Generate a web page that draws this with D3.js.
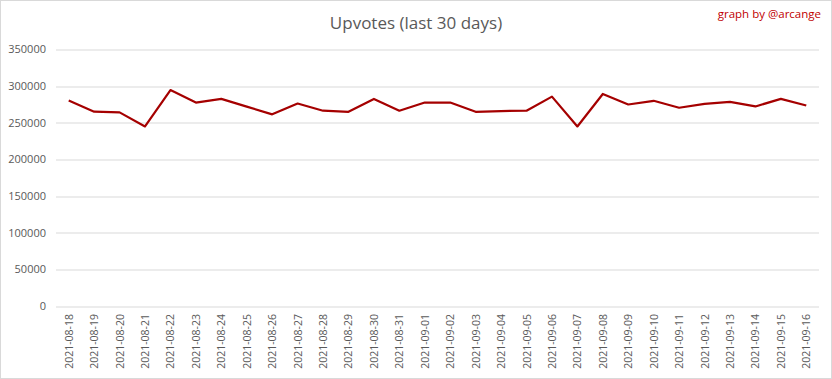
<!DOCTYPE html>
<html>
<head>
<meta charset="utf-8">
<script src="https://cdn.jsdelivr.net/npm/d3@7"></script>
<style>
  html, body { margin: 0; padding: 0; background: #fff; }
  #chart { width: 832px; height: 379px; }
  text { font-family: "Open Sans", "Liberation Sans", sans-serif; }
</style>
</head>
<body>
<div id="chart"></div>
<script>
// Upvotes (last 30 days)
const dates = [
  "2021-08-18", "2021-08-19", "2021-08-20", "2021-08-21", "2021-08-22",
  "2021-08-23", "2021-08-24", "2021-08-25", "2021-08-26", "2021-08-27",
  "2021-08-28", "2021-08-29", "2021-08-30", "2021-08-31", "2021-09-01",
  "2021-09-02", "2021-09-03", "2021-09-04", "2021-09-05", "2021-09-06",
  "2021-09-07", "2021-09-08", "2021-09-09", "2021-09-10", "2021-09-11",
  "2021-09-12", "2021-09-13", "2021-09-14", "2021-09-15", "2021-09-16"
];
const upvotes = [
  280300, 265200, 264200, 245000, 294600,
  277600, 282600, 272000, 261500, 276300,
  266500, 265000, 282600, 266500, 277600,
  277600, 265000, 266000, 266500, 285700,
  245000, 289300, 275000, 280000, 270500,
  275900, 278500, 272300, 282600, 273600
];
const yTicks = [0, 50000, 100000, 150000, 200000, 250000, 300000, 350000];

(function() {
  const width = 832, height = 379;
  const margin = { top: 49.5, right: 13, bottom: 73, left: 56 };
  const innerWidth = width - margin.left - margin.right;
  const innerHeight = height - margin.top - margin.bottom;

  const svg = d3.select("#chart").append("svg")
    .attr("width", width)
    .attr("height", height);

  svg.append("rect")
    .attr("x", 0.5).attr("y", 0.5)
    .attr("width", width - 1).attr("height", height - 1)
    .attr("fill", "#fff")
    .attr("stroke", "#d9d9d9");

  svg.append("text")
    .attr("x", 416)
    .attr("y", 29)
    .attr("text-anchor", "middle")
    .attr("fill", "#595959")
    .style("font-size", "17px")
    .text("Upvotes (last 30 days)");

  svg.append("text")
    .attr("x", 821)
    .attr("y", 18)
    .attr("text-anchor", "end")
    .attr("fill", "#c00000")
    .style("font-size", "11.5px")
    .text("graph by @arcange");

  const g = svg.append("g")
    .attr("transform", `translate(${margin.left},${margin.top})`);

  const x = d3.scaleBand().domain(dates).range([0, innerWidth]);
  const y = d3.scaleLinear().domain([0, 350000]).range([innerHeight, 0]);

  g.selectAll(".grid")
    .data(yTicks)
    .enter().append("line")
    .attr("x1", 0).attr("x2", innerWidth)
    .attr("y1", d => Math.round(y(d)) + 0.5)
    .attr("y2", d => Math.round(y(d)) + 0.5)
    .attr("stroke", "#d9d9d9")
    .attr("stroke-width", 1);

  g.selectAll(".ylab")
    .data(yTicks)
    .enter().append("text")
    .attr("x", -10)
    .attr("y", d => y(d))
    .attr("dy", "0.35em")
    .attr("text-anchor", "end")
    .attr("fill", "#595959")
    .style("font-size", "11px")
    .text(d => d);

  g.selectAll(".xlab")
    .data(dates)
    .enter().append("text")
    .attr("transform", d => `translate(${x(d) + x.bandwidth() / 2 + 4},${innerHeight + 8}) rotate(-90)`)
    .attr("text-anchor", "end")
    .attr("fill", "#595959")
    .style("font-size", "10.5px")
    .text(d => d);

  const line = d3.line()
    .x((d, i) => x(dates[i]) + x.bandwidth() / 2)
    .y(d => y(d));

  g.append("path")
    .datum(upvotes)
    .attr("d", line)
    .attr("fill", "none")
    .attr("stroke", "#a50000")
    .attr("stroke-width", 2.2)
    .attr("stroke-linejoin", "round");
})();
</script>
</body>
</html>
